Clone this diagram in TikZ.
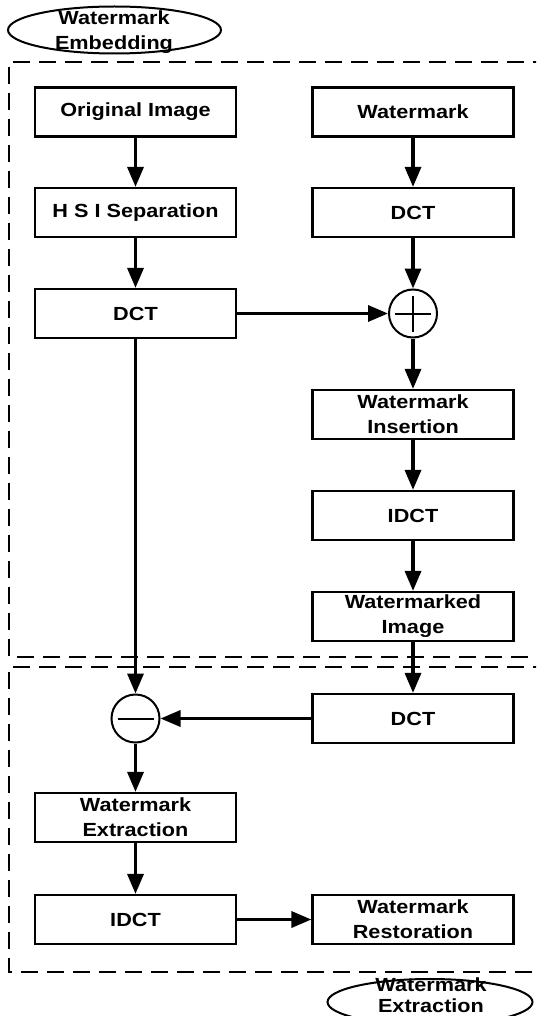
\documentclass[tikz,border=0pt]{standalone}
\usepackage{fontspec}
\setmainfont{Liberation Sans}[FakeStretch=1.14]
\usetikzlibrary{arrows.meta,shapes.geometric}
\newcommand\lblfont{\bfseries\fontsize{19}{25}\selectfont}
\newcommand\lbltightfont{\bfseries\fontsize{19}{21.5}\selectfont}
\tikzset{
  box/.style={draw, line width=2.2pt, minimum width=201pt, minimum height=49pt,
    inner sep=0pt, align=center, font=\lblfont},
  sumc/.style={draw, circle, line width=2pt, minimum size=48pt, inner sep=0pt},
  flow/.style={line width=3.4pt, -{Triangle[length=20pt,width=16pt]}},
  region/.style={line width=2.2pt, dash pattern=on 17pt off 9pt},
  tag/.style={draw, ellipse, line width=2pt, inner sep=0pt},
  tagtext/.style={align=center, font=\lblfont, inner sep=0pt},
  signline/.style={line width=2pt},
}
\begin{document}
\begin{tikzpicture}[x=1pt,y=-1pt]
\useasboundingbox (0,0) rectangle (536,1016);
\clip (0,0) rectangle (536,1016);
\fill[white] (0,0) rectangle (536,1016);

% regions
\draw[region] (550,62) -- (9,62) -- (9,657) -- (550,657);
\draw[region] (550,667) -- (9,667) -- (9,972) -- (550,972);

% tags
\node[tag, minimum width=213pt, minimum height=47pt] (embshape) at (114.5,30) {};
\node[tagtext] (embtext) at (114,32.5) {Watermark\\Embedding};
\node[tag, minimum width=205pt, minimum height=46pt] (extshape) at (430,1002) {};
\node[tagtext, font=\lbltightfont] (exttext) at (431,995) {Watermark\\Extraction};

% boxes
\node[box] (orig)  at (135.5,112)   {Original Image};
\node[box] (wm)    at (413,112)     {Watermark};
\node[box] (hsi)   at (135.5,212.5) {H S I Separation};
\node[box] (dctR)  at (413,212.5)   {DCT};
\node[box] (dctL)  at (135.5,313.5) {DCT};
\node[sumc] (plus) at (413,313.5)   {};
\node[box] (ins)   at (413,414.5)   {Watermark\\Insertion};
\node[box] (idctR) at (413,515.5)   {IDCT};
\node[box] (wmd)   at (413,616.5)   {Watermarked\\Image};
\node[box] (dctB)  at (413,718.5)   {DCT};
\node[sumc] (minus) at (135.5,718.5) {};
\node[box] (ext)   at (135.5,817.5) {Watermark\\Extraction};
\node[box] (idctB) at (135.5,919.5) {IDCT};
\node[box] (rest)  at (413,919.5)   {Watermark\\Restoration};

% signs
\draw[signline] ([xshift=-18pt]plus.center) -- ([xshift=18pt]plus.center);
\draw[signline] ([yshift=-18pt]plus.center) -- ([yshift=18pt]plus.center);
\draw[signline] ([xshift=-18pt]minus.center) -- ([xshift=18pt]minus.center);

% connectors
\draw[flow] (orig) -- (hsi);
\draw[flow] (hsi) -- (dctL);
\draw[flow] (wm) -- (dctR);
\draw[flow] (dctR) -- (plus);
\draw[flow] (dctL.east) -- (plus.west);
\draw[flow] (plus) -- (ins);
\draw[flow] (ins) -- (idctR);
\draw[flow] (idctR) -- (wmd);
\draw[flow] (wmd) -- (dctB);
\draw[flow] (dctL.south) -- (minus.north);
\draw[flow] (dctB.west) -- (minus.east);
\draw[flow] (minus) -- (ext);
\draw[flow] (ext) -- (idctB);
\draw[flow] (idctB.east) -- (rest.west);
\end{tikzpicture}
\end{document}
